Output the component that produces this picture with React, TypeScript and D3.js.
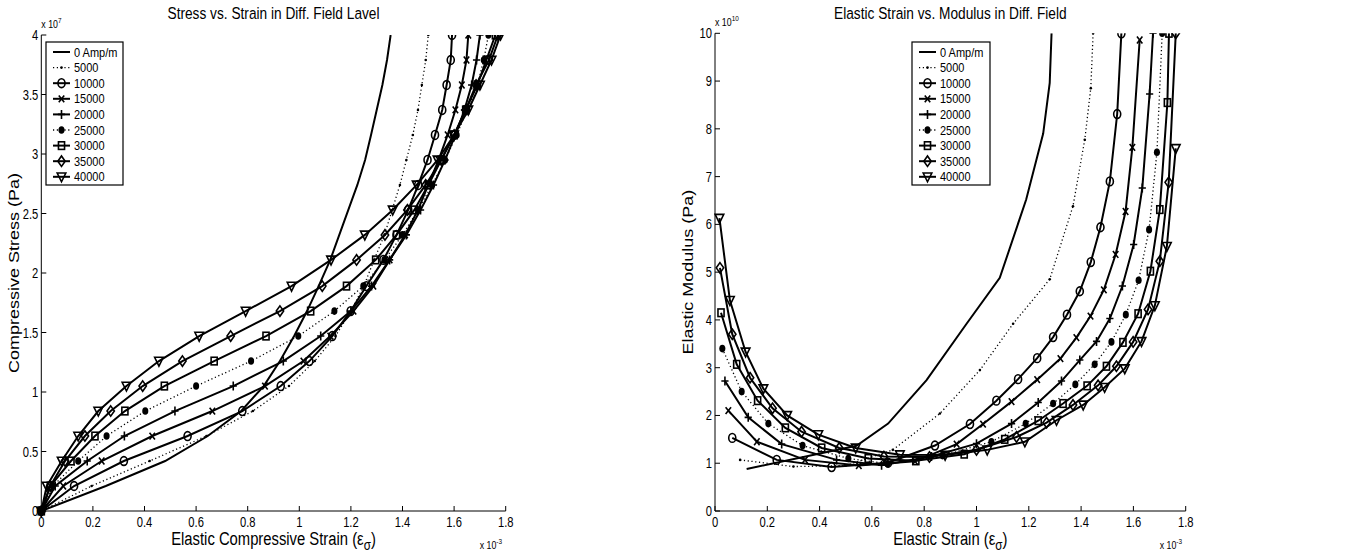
import React from "react";
import * as d3 from "d3";

// ---------- data ----------
const seriesNames = ["0 Amp/m", "5000", "10000", "15000", "20000", "25000", "30000", "35000", "40000"];

// Left chart: compressive stress levels (x 1e7 Pa)
const stressLevels = [0, 0.21, 0.42, 0.63, 0.84, 1.05, 1.26, 1.47, 1.68, 1.89, 2.11, 2.32, 2.53, 2.74, 2.95, 3.16, 3.37, 3.58, 3.79, 4.0];

// Left chart: elastic compressive strain (x 1e-3) at each stress level
const strainA0 = [0, 0.25, 0.48, 0.645, 0.775, 0.862, 0.925, 0.98, 1.03, 1.075, 1.12, 1.155, 1.19, 1.225, 1.255, 1.278, 1.3, 1.322, 1.34, 1.354];
const strainA5000 = [0, 0.195, 0.42, 0.64, 0.82, 0.96, 1.06, 1.14, 1.2, 1.25, 1.29, 1.33, 1.36, 1.39, 1.415, 1.44, 1.46, 1.475, 1.49, 1.5];
const strainA10000 = [0, 0.127, 0.32, 0.567, 0.779, 0.928, 1.039, 1.128, 1.199, 1.26, 1.326, 1.377, 1.422, 1.461, 1.497, 1.526, 1.554, 1.571, 1.587, 1.592];
const strainA15000 = [0, 0.085, 0.234, 0.43, 0.663, 0.867, 1.016, 1.12, 1.21, 1.287, 1.35, 1.41, 1.46, 1.5, 1.54, 1.575, 1.605, 1.63, 1.648, 1.655];
const strainA20000 = [0, 0.054, 0.178, 0.322, 0.518, 0.744, 0.938, 1.083, 1.2, 1.28, 1.35, 1.415, 1.47, 1.52, 1.565, 1.605, 1.64, 1.668, 1.687, 1.7];
const strainA25000 = [0, 0.045, 0.143, 0.253, 0.403, 0.6, 0.813, 0.996, 1.136, 1.248, 1.33, 1.4, 1.46, 1.515, 1.565, 1.61, 1.65, 1.69, 1.715, 1.733];
const strainA30000 = [0, 0.035, 0.115, 0.208, 0.324, 0.477, 0.67, 0.871, 1.044, 1.183, 1.296, 1.377, 1.446, 1.5, 1.55, 1.6, 1.645, 1.69, 1.725, 1.76];
const strainA35000 = [0, 0.035, 0.092, 0.169, 0.269, 0.393, 0.547, 0.734, 0.925, 1.089, 1.222, 1.332, 1.419, 1.49, 1.55, 1.6, 1.645, 1.685, 1.735, 1.77];
const strainA40000 = [0, 0.021, 0.079, 0.143, 0.221, 0.33, 0.456, 0.612, 0.792, 0.97, 1.123, 1.254, 1.362, 1.455, 1.536, 1.6, 1.655, 1.7, 1.745, 1.78];

// Right chart: elastic strain (x 1e-3) and modulus (x 1e10 Pa)
const strainB0 = [0.121, 0.541, 0.662, 0.809, 0.962, 1.089, 1.19, 1.255, 1.28, 1.287];
const modB0 = [0.88, 1.366, 1.83, 2.74, 3.92, 4.88, 6.52, 7.9, 8.96, 10];
const strainB5000 = [0.096, 0.3, 0.5, 0.68, 0.86, 1.013, 1.14, 1.28, 1.369, 1.414, 1.437, 1.446];
const modB5000 = [1.07, 0.93, 0.95, 1.28, 2.04, 2.95, 3.92, 4.85, 6.38, 7.77, 8.85, 10];
const strainB10000 = [0.066, 0.236, 0.446, 0.662, 0.841, 0.975, 1.076, 1.159, 1.232, 1.293, 1.346, 1.395, 1.437, 1.474, 1.51, 1.538, 1.554];
const modB10000 = [1.53, 1.07, 0.92, 1.01, 1.37, 1.82, 2.31, 2.76, 3.2, 3.64, 4.11, 4.6, 5.21, 5.94, 6.9, 8.31, 10];
const strainB15000 = [0.051, 0.16, 0.344, 0.55, 0.765, 0.924, 1.025, 1.134, 1.232, 1.321, 1.382, 1.436, 1.487, 1.532, 1.57, 1.596, 1.624];
const modB15000 = [2.1, 1.45, 1.07, 0.95, 1.04, 1.4, 1.82, 2.29, 2.75, 3.19, 3.63, 4.08, 4.63, 5.37, 6.27, 7.61, 9.86];
const strainB20000 = [0.038, 0.127, 0.255, 0.465, 0.637, 0.828, 1.0, 1.134, 1.236, 1.325, 1.395, 1.459, 1.51, 1.558, 1.601, 1.634, 1.662, 1.675];
const modB20000 = [2.72, 1.96, 1.4, 1.07, 0.96, 1.14, 1.41, 1.83, 2.27, 2.72, 3.16, 3.55, 4.03, 4.71, 5.58, 6.76, 8.73, 10];
const strainB25000 = [0.028, 0.102, 0.204, 0.335, 0.51, 0.66, 0.87, 1.057, 1.188, 1.293, 1.378, 1.452, 1.516, 1.571, 1.62, 1.66, 1.69, 1.71];
const modB25000 = [3.4, 2.5, 1.83, 1.37, 1.1, 0.99, 1.16, 1.45, 1.83, 2.25, 2.65, 3.07, 3.54, 4.11, 4.83, 5.89, 7.51, 10];
const strainB30000 = [0.023, 0.083, 0.163, 0.269, 0.408, 0.586, 0.768, 0.953, 1.108, 1.236, 1.331, 1.423, 1.497, 1.56, 1.618, 1.665, 1.701, 1.73, 1.736];
const modB30000 = [4.15, 3.07, 2.31, 1.74, 1.32, 1.1, 1.05, 1.19, 1.5, 1.89, 2.25, 2.62, 3.03, 3.53, 4.13, 5.02, 6.31, 8.55, 10];
const strainB35000 = [0.019, 0.066, 0.134, 0.22, 0.331, 0.475, 0.646, 0.82, 1.0, 1.153, 1.268, 1.369, 1.465, 1.535, 1.599, 1.656, 1.701, 1.735, 1.762];
const modB35000 = [5.09, 3.7, 2.79, 2.15, 1.66, 1.32, 1.14, 1.13, 1.28, 1.55, 1.85, 2.22, 2.63, 3.03, 3.54, 4.22, 5.23, 6.88, 10];
const strainB40000 = [0.017, 0.057, 0.117, 0.185, 0.276, 0.395, 0.538, 0.707, 0.88, 1.041, 1.185, 1.306, 1.408, 1.49, 1.567, 1.631, 1.682, 1.728, 1.762];
const modB40000 = [6.13, 4.41, 3.33, 2.56, 2.0, 1.6, 1.32, 1.18, 1.17, 1.28, 1.45, 1.9, 2.22, 2.59, 2.98, 3.55, 4.3, 5.54, 7.59];

const xTicks = [0, 0.2, 0.4, 0.6, 0.8, 1, 1.2, 1.4, 1.6, 1.8];
const yTicksA = [0, 0.5, 1, 1.5, 2, 2.5, 3, 3.5, 4];
const yTicksB = [0, 1, 2, 3, 4, 5, 6, 7, 8, 9, 10];

// ---------- styles ----------
type Marker = "none" | "dot" | "circle" | "x" | "plus" | "bigdot" | "square" | "diamond" | "tri";
const seriesStyle: { dashed: boolean; marker: Marker }[] = [
  { dashed: false, marker: "none" },
  { dashed: true, marker: "dot" },
  { dashed: false, marker: "circle" },
  { dashed: false, marker: "x" },
  { dashed: false, marker: "plus" },
  { dashed: true, marker: "bigdot" },
  { dashed: false, marker: "square" },
  { dashed: false, marker: "diamond" },
  { dashed: false, marker: "tri" },
];

const leftStrains = [strainA0, strainA5000, strainA10000, strainA15000, strainA20000, strainA25000, strainA30000, strainA35000, strainA40000];
const rightStrains = [strainB0, strainB5000, strainB10000, strainB15000, strainB20000, strainB25000, strainB30000, strainB35000, strainB40000];
const rightMods = [modB0, modB5000, modB10000, modB15000, modB20000, modB25000, modB30000, modB35000, modB40000];

const FONT = "'Liberation Sans', Arial, Helvetica, sans-serif";
const SQ = 0.8; // horizontal squeeze of the original figure

function MarkerShape({ type, x, y }: { type: Marker; x: number; y: number }) {
  const sw = 1.6;
  const h = SQ;
  switch (type) {
    case "dot":
      return <circle cx={x} cy={y} r={1.3} fill="#000" />;
    case "circle":
      return <ellipse cx={x} cy={y} rx={4.4 * h} ry={4.4} fill="none" stroke="#000" strokeWidth={sw} />;
    case "x":
      return <path d={`M${x - 3.4 * h},${y - 3.4}L${x + 3.4 * h},${y + 3.4}M${x - 3.4 * h},${y + 3.4}L${x + 3.4 * h},${y - 3.4}`} stroke="#000" strokeWidth={sw} />;
    case "plus":
      return <path d={`M${x - 4.5 * h},${y}L${x + 4.5 * h},${y}M${x},${y - 4.5}L${x},${y + 4.5}`} stroke="#000" strokeWidth={sw} />;
    case "bigdot":
      return <ellipse cx={x} cy={y} rx={3.8 * h} ry={3.8} fill="#000" />;
    case "square":
      return <rect x={x - 3.8 * h} y={y - 3.8} width={7.6 * h} height={7.6} fill="none" stroke="#000" strokeWidth={sw} />;
    case "diamond":
      return <path d={`M${x},${y - 5.2}L${x + 4.6 * h},${y}L${x},${y + 5.2}L${x - 4.6 * h},${y}Z`} fill="none" stroke="#000" strokeWidth={sw} />;
    case "tri":
      return <path d={`M${x - 5.4 * h},${y - 3.8}L${x + 5.4 * h},${y - 3.8}L${x},${y + 5}Z`} fill="none" stroke="#000" strokeWidth={sw} />;
    default:
      return null;
  }
}

function SqText({ x, y, size, anchor, children, sq = SQ }: { x: number; y: number; size: number; anchor?: string; children: React.ReactNode; sq?: number }) {
  return (
    <text transform={`translate(${x},${y}) scale(${sq},1)`} fontSize={size} textAnchor={anchor || "start"}>{children}</text>
  );
}

interface PanelProps {
  id: string;
  x0: number; x1: number; y0: number; y1: number;
  yMax: number; yTicks: number[]; exp: string;
  title: string; xLabel: string; yLabel: string;
  data: { xs: number[]; ys: number[] }[];
  legendX: number; legendW: number;
}

function Panel(p: PanelProps) {
  const xs = d3.scaleLinear().domain([0, 1.8]).range([p.x0, p.x1]);
  const ys = d3.scaleLinear().domain([0, p.yMax]).range([p.y0, p.y1]);
  const line = d3.line<[number, number]>().x((d) => xs(d[0])).y((d) => ys(d[1]));
  const cx = (p.x0 + p.x1) / 2;
  const cy = (p.y0 + p.y1) / 2;
  const legendTop = 42;
  const rowH = 15.6;
  return (
    <g fontFamily={FONT}>
      <defs>
        <clipPath id={p.id}>
          <rect x={p.x0 - 6} y={p.y1} width={p.x1 - p.x0 + 12} height={p.y0 - p.y1 + 6} />
        </clipPath>
      </defs>
      {/* axes */}
      <line x1={p.x0} y1={p.y0} x2={p.x1} y2={p.y0} stroke="#000" strokeWidth={1} />
      <line x1={p.x0} y1={p.y0} x2={p.x0} y2={p.y1} stroke="#000" strokeWidth={1} />
      {xTicks.map((t) => (
        <g key={"xt" + t}>
          <line x1={xs(t)} x2={xs(t)} y1={p.y0} y2={p.y0 - 5} stroke="#000" />
          <SqText x={xs(t)} y={p.y0 + 16} size={14} anchor="middle">{String(t)}</SqText>
        </g>
      ))}
      {p.yTicks.map((t) => (
        <g key={"yt" + t}>
          <line x1={p.x0} x2={p.x0 + 5} y1={ys(t)} y2={ys(t)} stroke="#000" />
          <SqText x={p.x0 - 3} y={ys(t) + 5} size={14} anchor="end">{String(t)}</SqText>
        </g>
      ))}
      <SqText x={p.x0} y={p.y1 - 7} size={11}>x 10<tspan dy={-5} fontSize={8}>{p.exp}</tspan></SqText>
      <SqText x={p.x1 - 26} y={p.y0 + 38} size={11}>x 10<tspan dy={-5} fontSize={8}>-3</tspan></SqText>
      <SqText x={cx} y={19} size={16.5} anchor="middle" sq={0.83}>{p.title}</SqText>
      <SqText x={cx} y={p.y0 + 34} size={19} anchor="middle" sq={0.78}>
        {p.xLabel} (ε<tspan dy={5} fontSize={15}>σ</tspan><tspan dy={-5}>)</tspan>
      </SqText>
      <text transform={`translate(${p.x0 - 22},${cy}) rotate(-90) scale(1,${SQ})`} fontSize={18} textAnchor="middle">{p.yLabel}</text>
      {/* series */}
      <g clipPath={`url(#${p.id})`}>
        {p.data.map((s, i) => {
          const pts = s.xs.map((v, k) => [v, s.ys[k]] as [number, number]);
          const st = seriesStyle[i];
          return (
            <g key={"s" + i}>
              <path d={line(pts) || ""} fill="none" stroke="#000" strokeWidth={st.dashed ? 1.3 : 2}
                strokeDasharray={st.dashed ? "1.2 2.6" : undefined} />
              {st.marker !== "none" && pts.map((d, k) => (
                <MarkerShape key={k} type={st.marker} x={xs(d[0])} y={ys(d[1])} />
              ))}
            </g>
          );
        })}
      </g>
      {/* legend */}
      <rect x={p.legendX} y={legendTop} width={p.legendW} height={143} fill="#fff" stroke="#000" strokeWidth={1.2} />
      {seriesNames.map((n, i) => {
        const y = legendTop + 10 + i * rowH;
        const st = seriesStyle[i];
        const lx0 = p.legendX + 7;
        const lx1 = p.legendX + 24;
        return (
          <g key={"lg" + i}>
            <line x1={lx0} x2={lx1} y1={y} y2={y} stroke="#000" strokeWidth={st.dashed ? 1.3 : 2}
              strokeDasharray={st.dashed ? "1.2 2.6" : undefined} />
            {st.marker !== "none" && <MarkerShape type={st.marker} x={(lx0 + lx1) / 2} y={y} />}
            <SqText x={p.legendX + 28} y={y + 4.5} size={12.5} sq={0.88}>{n}</SqText>
          </g>
        );
      })}
    </g>
  );
}

export default function App() {
  const leftData = leftStrains.map((s) => ({ xs: s, ys: stressLevels }));
  const rightData = rightStrains.map((s, i) => ({ xs: s, ys: rightMods[i] }));
  return (
    <svg width={1353} height={560} style={{ position: "absolute", left: 0, top: 0, background: "#fff" }}>
      <rect width={1353} height={560} fill="#fff" />
      <Panel id="clipA" x0={41.3} x1={505.7} y0={511} y1={35} yMax={4} yTicks={yTicksA} exp="7"
        title="Stress vs. Strain in Diff. Field Lavel" xLabel="Elastic Compressive Strain" yLabel="Compressive Stress (Pa)"
        data={leftData} legendX={46} legendW={77} />
      <Panel id="clipB" x0={715} x1={1185.7} y0={511} y1={33.3} yMax={10} yTicks={yTicksB} exp="10"
        title="Elastic Strain vs. Modulus in Diff. Field" xLabel="Elastic Strain" yLabel="Elastic Modulus (Pa)"
        data={rightData} legendX={912} legendW={78} />
    </svg>
  );
}
